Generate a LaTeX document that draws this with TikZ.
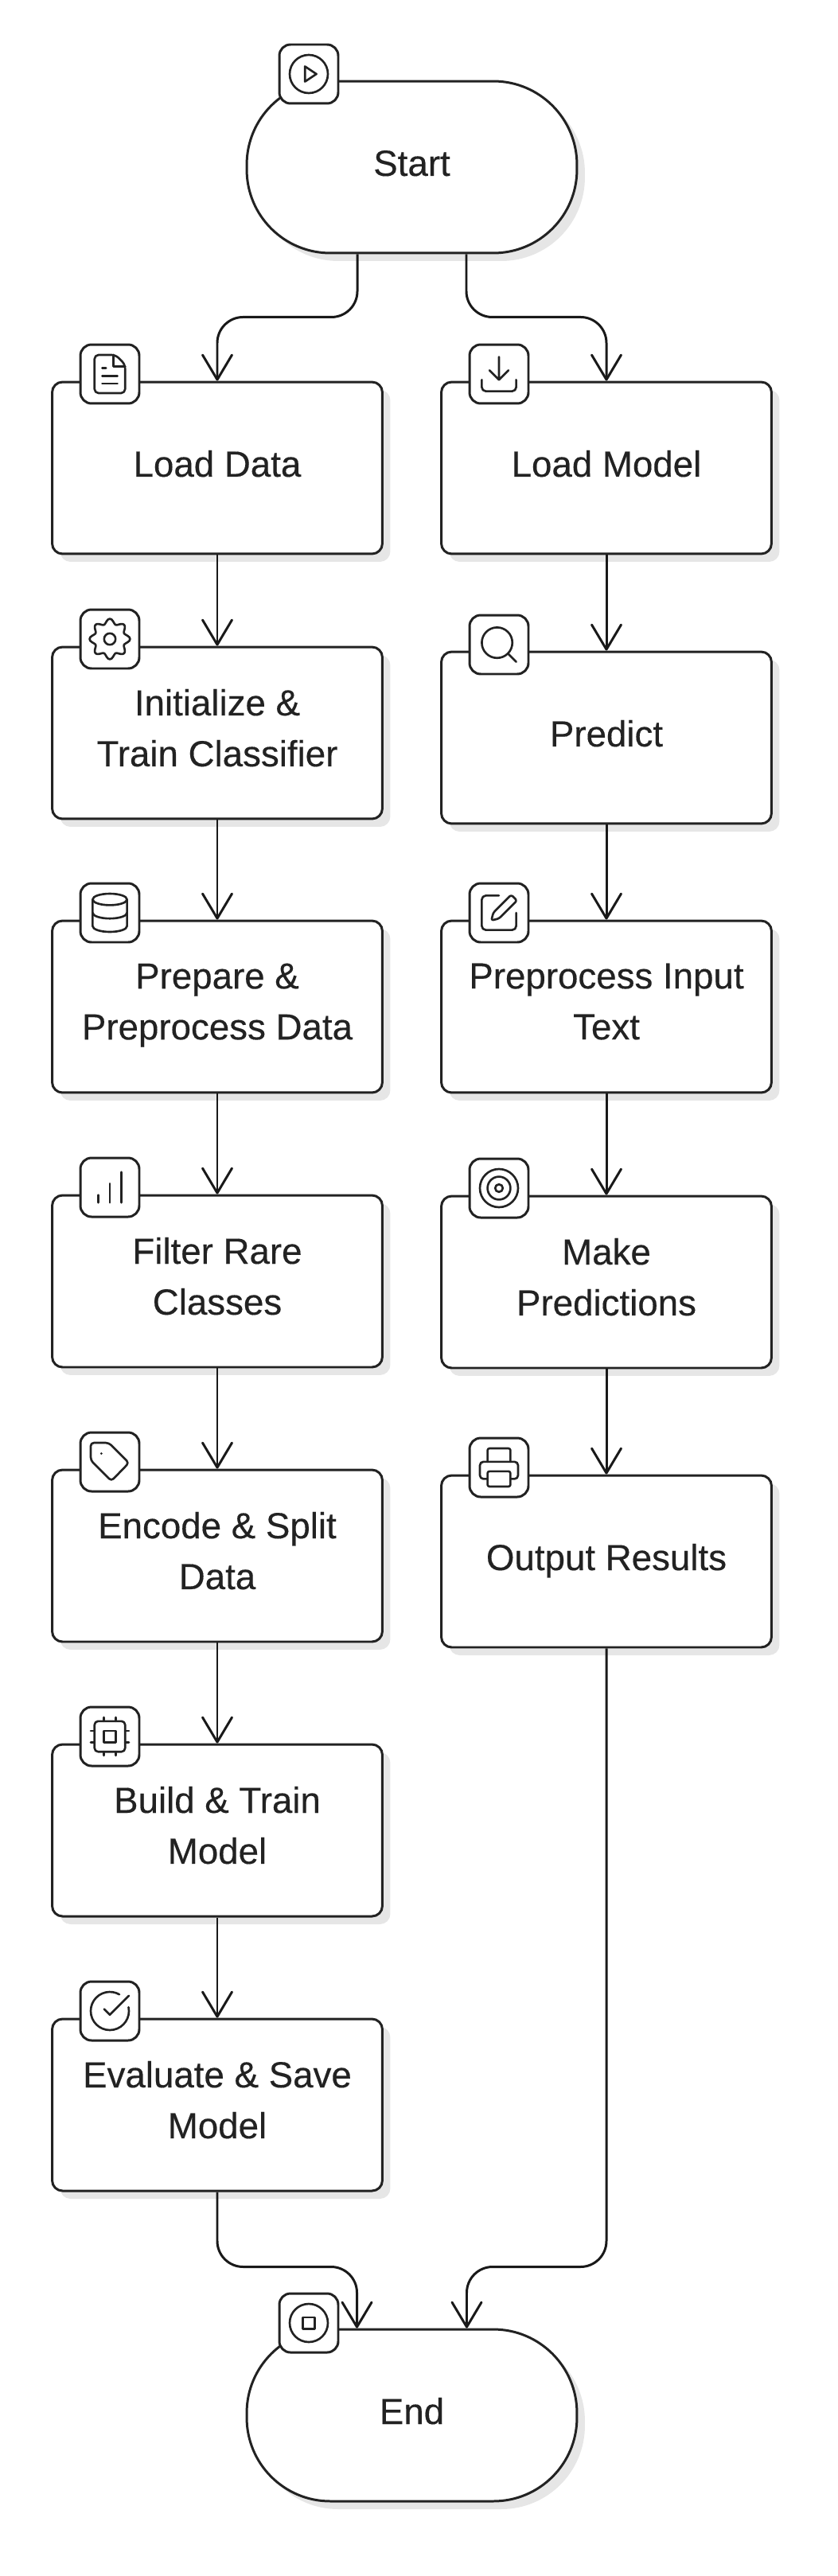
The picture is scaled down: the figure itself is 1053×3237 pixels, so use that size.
\documentclass[tikz,border=0pt]{standalone}
\usepackage{fontspec}
\setmainfont[RawFeature={embolden=0.3}]{Liberation Sans}
\definecolor{InkDark}{HTML}{222222}
\definecolor{ShadowGrey}{HTML}{E6E6E6}
\usetikzlibrary{arrows.meta, shadows}
\tikzset{
  softshadow/.style={drop shadow={shadow xshift=0.2cm, shadow yshift=-0.2cm, fill=ShadowGrey, opacity=1}},
  boxbase/.style={draw=InkDark, line width=1.7pt, fill=white, softshadow, rounded corners=0.26cm,
    minimum width=8.3cm, minimum height=4.32cm, inner sep=0pt, align=center, text=InkDark,
    font=\fontsize{26}{36.4}\selectfont, execute at end node={\rule[-7.5pt]{0pt}{0pt}}},
  stepbox/.style={boxbase, execute at begin node={\rule{0pt}{20pt}}},
  twoline/.style={boxbase, execute at begin node={\rule{0pt}{23pt}}},
  terminal/.style={stepbox, rounded corners=2.1cm},
  iconbox/.style={draw=InkDark, line width=1.7pt, fill=white, rounded corners=0.28cm,
    minimum size=1.48cm, inner sep=0pt},
  flowline/.style={draw=black!90, line width=1.7pt, rounded corners=0.65cm,
    -{Straight Barb[length=0.62cm, width=0.74cm, round]}},
  iconline/.style={draw=InkDark, line width=1.5pt, x=0.048cm, y=0.048cm, line cap=round, line join=round},
  playicon/.pic={
    \draw[iconline] (0,0) circle (10);
    \draw[iconline] (-2,4) -- (4,0) -- (-2,-4) -- cycle;
  },
  fileicon/.pic={
    \draw[iconline, rounded corners=0.1cm] (3,10) -- (-8,10) -- (-8,-10) -- (8,-10) -- (8,5) -- cycle;
    \draw[iconline] (2,10) -- (2,4) -- (8,4);
    \draw[iconline] (-2,3) -- (-4,3) (4,-1) -- (-4,-1) (4,-5) -- (-4,-5);
  },
  downicon/.pic={
    \draw[iconline, rounded corners=0.1cm] (9,-3) -- (9,-9) -- (-9,-9) -- (-9,-3);
    \draw[iconline] (-5,2) -- (0,-3) -- (5,2) (0,-3) -- (0,9);
  },
  gearicon/.pic={
    \draw[iconline] plot[smooth cycle, domain=0:355, samples=72]
      ({(9.3+1.3*cos(8*\x))*cos(\x)}, {(9.3+1.3*cos(8*\x))*sin(\x)});
    \draw[iconline] (0,0) circle (3);
  },
  searchicon/.pic={
    \draw[iconline] (-1,1) circle (8);
    \draw[iconline] (9,-9) -- (4.7,-4.7);
  },
  dbicon/.pic={
    \draw[iconline] (0,7) ellipse (9 and 3);
    \draw[iconline] (-9,7) -- (-9,-7) arc[start angle=180, end angle=360, x radius=9, y radius=3] -- (9,7);
    \draw[iconline] (-9,0) arc[start angle=180, end angle=360, x radius=9, y radius=3];
  },
  penicon/.pic={
    \draw[iconline, rounded corners=0.1cm] (0,9) -- (-9,9) -- (-9,-9) -- (9,-9) -- (9,0);
    \draw[iconline, rounded corners=0.05cm] (6.4,9.4) -- (9.4,6.4) -- (0,-3) -- (-4,-4) -- (-3,0) -- cycle;
  },
  barsicon/.pic={
    \draw[iconline] (0,-8) -- (0,2) (6,-8) -- (6,8) (-6,-8) -- (-6,-4);
  },
  targeticon/.pic={
    \draw[iconline] (0,0) circle (10) (0,0) circle (6) (0,0) circle (2);
  },
  tagicon/.pic={
    \draw[iconline, rounded corners=0.08cm] (-10,10) -- (-0.5,10) -- (10,-0.5) -- (0.8,-10) -- (-10,0.8) -- cycle;
    \draw[iconline] (-4.5,4.5) -- (-4.4,4.5);
  },
  printericon/.pic={
    \draw[iconline, rounded corners=0.09cm] (-6,-6) -- (-10,-6) -- (-10,3) -- (10,3) -- (10,-6) -- (6,-6);
    \draw[iconline, rounded corners=0.05cm] (-6,3) -- (-6,10) -- (6,10) -- (6,3);
    \draw[iconline, rounded corners=0.05cm] (-6,-2) rectangle (6,-10);
  },
  chipicon/.pic={
    \draw[iconline, rounded corners=0.09cm] (-8,-8) rectangle (8,8);
    \draw[iconline] (-3,-3) rectangle (3,3);
    \draw[iconline] (3,8) -- (3,10) (-3,8) -- (-3,10) (3,-8) -- (3,-10) (-3,-8) -- (-3,-10);
    \draw[iconline] (8,3) -- (10,3) (8,-3) -- (10,-3) (-8,3) -- (-10,3) (-8,-3) -- (-10,-3);
  },
  checkicon/.pic={
    \draw[iconline] (9.8,2) arc[start angle=11.5, end angle=-300, radius=10];
    \draw[iconline] (-3,1) -- (0,-2) -- (10,8);
  },
  stopicon/.pic={
    \draw[iconline] (0,0) circle (10);
    \draw[iconline] (-3,-3) rectangle (3,3);
  },
}
\begin{document}
\begin{tikzpicture}[x=0.02cm, y=-0.02cm]
  \useasboundingbox (0,0) rectangle (1053,3237);
  % Start and end
  \node[terminal] (startnode) at (517.5,210) {Start};
  \node[terminal] (endnode) at (517.5,3035) {End};
  % Left column
  \node[stepbox] (loaddata) at (273,588) {Load Data};
  \node[stepbox] (trainclf) at (273,921) {Initialize \&\\Train Classifier};
  \node[twoline] (preparedata) at (273,1265) {Prepare \&\\Preprocess Data};
  \node[twoline] (filterrare) at (273,1610) {Filter Rare\\Classes};
  \node[twoline] (encodesplit) at (273,1955) {Encode \& Split\\Data};
  \node[twoline] (buildmodel) at (273,2300) {Build \& Train\\Model};
  \node[twoline] (evalsave) at (273,2645) {Evaluate \& Save\\Model};
  % Right column
  \node[stepbox] (loadmodel) at (762,588) {Load Model};
  \node[stepbox] (predict) at (762,927) {Predict};
  \node[twoline] (prepinput) at (762,1265) {Preprocess Input\\Text};
  \node[twoline] (makepred) at (762,1611) {Make\\Predictions};
  \node[stepbox] (output) at (762,1962) {Output Results};
  % Connectors
  \draw[flowline] ([xshift=-1.37cm]startnode.south) -- ++(0,79) -| (loaddata.north);
  \draw[flowline] ([xshift=1.37cm]startnode.south) -- ++(0,79) -| (loadmodel.north);
  \draw[flowline] (loaddata) -- (trainclf);
  \draw[flowline] (trainclf) -- (preparedata);
  \draw[flowline] (preparedata) -- (filterrare);
  \draw[flowline] (filterrare) -- (encodesplit);
  \draw[flowline] (encodesplit) -- (buildmodel);
  \draw[flowline] (buildmodel) -- (evalsave);
  \draw[flowline] (loadmodel) -- (predict);
  \draw[flowline] (predict) -- (prepinput);
  \draw[flowline] (prepinput) -- (makepred);
  \draw[flowline] (makepred) -- (output);
  \draw[flowline] (evalsave.south) -- ++(0,94) -| ([xshift=-1.38cm]endnode.north);
  \draw[flowline] (output.south) -- ++(0,777) -| ([xshift=1.38cm]endnode.north);
  % Icon boxes
  \node[iconbox] (iconstart) at (388,93) {};
  \node[iconbox] (iconload) at (138,470) {};
  \node[iconbox] (icontrain) at (138,803) {};
  \node[iconbox] (iconprep) at (138,1147) {};
  \node[iconbox] (iconfilter) at (138,1492) {};
  \node[iconbox] (iconencode) at (138,1837) {};
  \node[iconbox] (iconbuild) at (138,2182) {};
  \node[iconbox] (iconeval) at (138,2527) {};
  \node[iconbox] (iconmodel) at (627,470) {};
  \node[iconbox] (iconpredict) at (627,810) {};
  \node[iconbox] (iconinput) at (627,1147) {};
  \node[iconbox] (iconmake) at (627,1493) {};
  \node[iconbox] (iconoutput) at (627,1844) {};
  \node[iconbox] (iconend) at (388,2919) {};
  % Icons
  \pic at (iconstart) {playicon};
  \pic at (iconload) {fileicon};
  \pic at (icontrain) {gearicon};
  \pic at (iconprep) {dbicon};
  \pic at (iconfilter) {barsicon};
  \pic at (iconencode) {tagicon};
  \pic at (iconbuild) {chipicon};
  \pic at (iconeval) {checkicon};
  \pic at (iconmodel) {downicon};
  \pic at (iconpredict) {searchicon};
  \pic at (iconinput) {penicon};
  \pic at (iconmake) {targeticon};
  \pic at (iconoutput) {printericon};
  \pic at (iconend) {stopicon};
\end{tikzpicture}
\end{document}
